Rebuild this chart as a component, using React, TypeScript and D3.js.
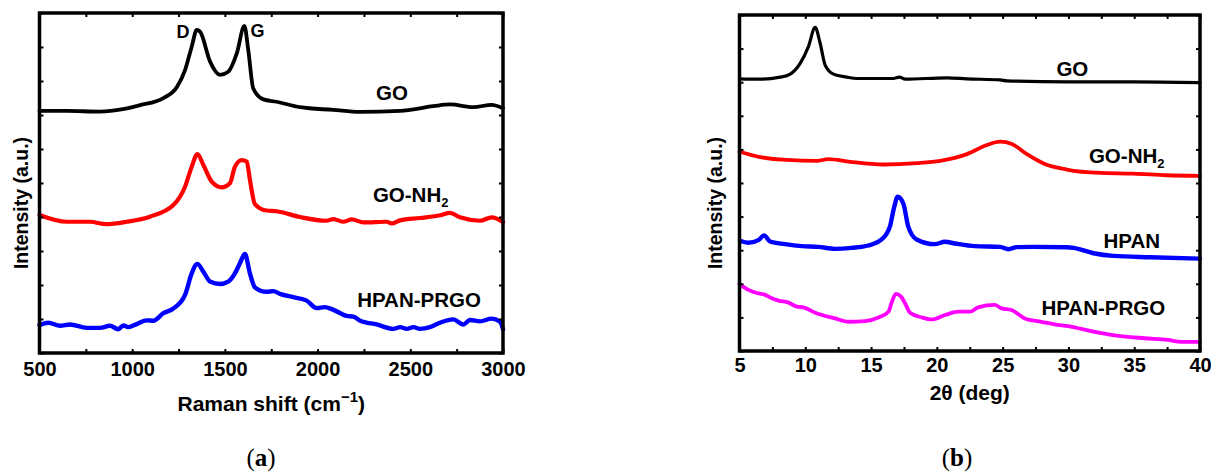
import React, { useEffect, useRef } from 'react';
import * as d3 from 'd3';

type Pt = [number, number];

// Raman spectra (panel a), x = Raman shift (cm-1), y = offset intensity (a.u.)
const ramanGO: Pt[] = [
  [500, 7.12], [647, 7.12], [826, 7.1], [950, 7.17], [1042, 7.29], [1166, 7.49],
  [1242, 7.83], [1285, 8.32], [1321, 9.01], [1348, 9.5], [1366, 9.45], [1420, 8.57],
  [1474, 8.18], [1518, 8.27], [1564, 8.81], [1605, 9.62], [1626, 8.91], [1653, 7.78],
  [1707, 7.46], [1779, 7.39], [1905, 7.23], [2085, 7.15], [2229, 7.09], [2445, 7.12],
  [2624, 7.26], [2714, 7.31], [2840, 7.23], [2939, 7.3], [3000, 7.2],
];
const ramanGONH2: Pt[] = [
  [500, 4.06], [647, 3.86], [772, 3.86], [859, 3.79], [970, 3.86], [1096, 4.01],
  [1222, 4.35], [1285, 4.89], [1321, 5.48], [1352, 5.85], [1384, 5.53], [1429, 5.04],
  [1483, 4.87], [1528, 5.0], [1554, 5.48], [1591, 5.67], [1618, 5.63], [1635, 5.09],
  [1662, 4.38], [1725, 4.19], [1779, 4.17], [1905, 4.0], [2048, 3.89], [2085, 3.94],
  [2139, 3.86], [2184, 3.93], [2247, 3.84], [2373, 3.86], [2400, 3.81], [2445, 3.9],
  [2553, 3.97], [2661, 4.05], [2714, 4.12], [2768, 3.99], [2876, 3.89], [2939, 3.99],
  [3000, 3.85],
];
const ramanHPANPRGO: Pt[] = [
  [500, 0.82], [547, 0.89], [611, 0.8], [665, 0.84], [755, 0.74], [826, 0.74],
  [880, 0.8], [925, 0.7], [952, 0.81], [979, 0.76], [1024, 0.85], [1078, 0.96],
  [1114, 0.95], [1168, 1.17], [1222, 1.31], [1285, 1.71], [1321, 2.34], [1351, 2.62],
  [1384, 2.39], [1420, 2.1], [1474, 2.03], [1518, 2.1], [1554, 2.34], [1581, 2.64],
  [1608, 2.91], [1635, 2.34], [1662, 1.93], [1725, 1.8], [1761, 1.82], [1797, 1.74],
  [1869, 1.64], [1941, 1.54], [1995, 1.32], [2040, 1.35], [2085, 1.27], [2157, 1.09],
  [2193, 1.07], [2229, 0.95], [2319, 0.84], [2409, 0.71], [2445, 0.76], [2481, 0.71],
  [2517, 0.76], [2552, 0.71], [2606, 0.76], [2660, 0.89], [2732, 0.99], [2786, 0.84],
  [2822, 0.97], [2876, 0.93], [2939, 1.01], [2984, 0.92], [3000, 0.7],
];

// XRD patterns (panel b), x = 2θ (deg)
const xrdGO: Pt[] = [
  [5, 8.1], [6.57, 8.09], [8.09, 8.15], [8.85, 8.24], [9.61, 8.56], [10.24, 9.06],
  [10.75, 9.63], [11.13, 9.16], [11.51, 8.51], [12.14, 8.24], [13.16, 8.15],
  [13.92, 8.11], [16.7, 8.11], [17.16, 8.15], [17.59, 8.09], [20.76, 8.13],
  [22.28, 8.1], [24.81, 8.07], [25.31, 8.04], [29.87, 8.01], [34.93, 8.01], [40, 7.99],
];
const xrdGONH2: Pt[] = [
  [5, 5.93], [6.57, 5.77], [8.6, 5.69], [10.88, 5.66], [11.76, 5.71], [13.41, 5.63],
  [15.94, 5.55], [18.48, 5.59], [20.25, 5.66], [22.28, 5.86], [23.8, 6.13],
  [24.81, 6.23], [25.7, 6.16], [26.84, 5.86], [28.11, 5.58], [29.87, 5.4],
  [32.4, 5.3], [34.93, 5.28], [37.46, 5.23], [40, 5.21],
];
const xrdHPAN: Pt[] = [
  [5.05, 3.28], [5.68, 3.22], [6.44, 3.3], [6.87, 3.44], [7.32, 3.26], [8.46, 3.18],
  [9.73, 3.12], [10.99, 3.1], [12.26, 3.04], [13.53, 3.07], [14.79, 3.14],
  [15.8, 3.32], [16.43, 3.7], [16.76, 4.29], [17.02, 4.59], [17.45, 4.39],
  [17.83, 3.7], [18.46, 3.32], [19.85, 3.18], [20.61, 3.25], [21.37, 3.2],
  [22.89, 3.12], [24.81, 3.1], [25.44, 3.03], [26.07, 3.09], [27.34, 3.1],
  [29.87, 3.09], [30.38, 3.07], [31.9, 2.91], [33.42, 2.83], [36.2, 2.79], [40, 2.75],
];
const xrdHPANPRGO: Pt[] = [
  [5, 1.99], [5.68, 1.82], [6.19, 1.74], [6.95, 1.67], [7.46, 1.57], [7.96, 1.5],
  [8.72, 1.44], [9.36, 1.32], [9.86, 1.3], [10.75, 1.14], [12.27, 0.97], [13.28, 0.87],
  [14.55, 0.89], [15.56, 1.0], [16.32, 1.17], [16.58, 1.46], [16.88, 1.7], [17.28, 1.62],
  [17.58, 1.42], [17.96, 1.14], [18.85, 1.0], [19.61, 0.94], [20.62, 1.07], [21.63, 1.17],
  [22.52, 1.17], [23.14, 1.3], [24.4, 1.37], [24.91, 1.27], [25.67, 1.22], [26.68, 0.97],
  [27.95, 0.87], [28.96, 0.79], [29.97, 0.74], [31.99, 0.57], [33.26, 0.48],
  [35.79, 0.38], [37.57, 0.33], [38.58, 0.27], [40, 0.27],
];

const ramanTickLabels = [500, 1000, 1500, 2000, 2500, 3000];
const xrdTickLabels = [5, 10, 15, 20, 25, 30, 35, 40];
const intensityTicks = [0, 1, 2, 3, 4, 5, 6, 7, 8, 9, 10];

const FONT = '"Liberation Sans", Arial, sans-serif';

const App = () => {
  const svgRef = useRef<SVGSVGElement>(null);

  useEffect(() => {
    const svg = d3.select(svgRef.current);
    svg.selectAll('*').remove();

    const drawPanel = (opts: any) => {
      const { left, right, top, bottom, xDomain, majors, step, series, labels, xTitle, pad, yTitleX, titleY, caption, captionX } = opts;
      const x = d3.scaleLinear().domain(xDomain).range([left, right]);
      const y = d3.scaleLinear().domain([0, 10]).range([bottom, top]);
      const allTicks = d3.range(xDomain[0], xDomain[1] + step / 2, step);
      const fmt = (d: any) => (majors.includes(d) ? String(d) : '');

      const g = svg.append('g');

      const line = d3.line<Pt>()
        .x(d => x(d[0]))
        .y(d => y(d[1]))
        .curve(d3.curveMonotoneX);

      series.forEach((s: any) => {
        g.append('path')
          .datum(s.data)
          .attr('fill', 'none')
          .attr('stroke', s.color)
          .attr('stroke-width', s.width)
          .attr('stroke-linejoin', 'round')
          .attr('stroke-linecap', 'round')
          .attr('d', line);
      });

      // axes, ticks pointing inward on all four sides
      const bottomAxis = g.append('g')
        .attr('transform', `translate(0,${bottom})`)
        .call(d3.axisBottom(x).tickValues(allTicks).tickSize(-4).tickPadding(pad).tickFormat(fmt));
      bottomAxis.selectAll('text')
        .attr('font-family', FONT).attr('font-weight', 'bold').attr('font-size', 20).attr('fill', '#000');
      g.append('g').attr('transform', `translate(0,${top})`)
        .call(d3.axisTop(x).tickValues(allTicks).tickSize(-4).tickFormat(() => ''));
      g.append('g').attr('transform', `translate(${left},0)`)
        .call(d3.axisLeft(y).tickValues(intensityTicks).tickSize(-4).tickFormat(() => ''));
      g.append('g').attr('transform', `translate(${right},0)`)
        .call(d3.axisRight(y).tickValues(intensityTicks).tickSize(-4).tickFormat(() => ''));
      g.selectAll('.domain').remove();
      g.selectAll('.tick line').attr('stroke', '#000').attr('stroke-width', 2);

      g.append('rect')
        .attr('x', left).attr('y', top)
        .attr('width', right - left).attr('height', bottom - top)
        .attr('fill', 'none').attr('stroke', '#000').attr('stroke-width', 3.5);

      labels.forEach((l: any) => {
        const t = g.append('text')
          .attr('x', x(l.x)).attr('y', y(l.y))
          .attr('text-anchor', 'middle')
          .attr('font-family', FONT).attr('font-weight', 'bold')
          .attr('font-size', l.size || 20.5)
          .text(l.text);
        if (l.sub) {
          t.append('tspan').attr('font-size', 13).attr('dy', 5).text(l.sub);
        }
      });

      // x title
      const xt = g.append('text')
        .attr('x', (left + right) / 2).attr('y', titleY)
        .attr('text-anchor', 'middle')
        .attr('font-family', FONT).attr('font-weight', 'bold').attr('font-size', 21);
      xt.append('tspan').text(xTitle.main);
      if (xTitle.sup) {
        xt.append('tspan').attr('font-size', 15).attr('dy', -9).text(xTitle.sup);
        xt.append('tspan').attr('dy', 9).text(')');
      }

      g.append('text')
        .attr('transform', `translate(${yTitleX},${(top + bottom) / 2 + 20}) rotate(-90)`)
        .attr('text-anchor', 'middle')
        .attr('font-family', FONT).attr('font-weight', 'bold').attr('font-size', 19.5)
        .text('Intensity (a.u.)');

      const cap = g.append('text')
        .attr('x', captionX).attr('y', 466)
        .attr('text-anchor', 'middle')
        .attr('font-family', '"Liberation Serif", "DejaVu Serif", serif')
        .attr('font-size', 25);
      cap.append('tspan').text('(');
      cap.append('tspan').attr('font-weight', 'bold').text(caption);
      cap.append('tspan').text(')');
    };

    drawPanel({
      left: 39.5, right: 503, top: 13, bottom: 353,
      xDomain: [500, 3000], majors: ramanTickLabels, step: 250, pad: 9,
      series: [
        { data: ramanGO, color: '#000000', width: 3.8 },
        { data: ramanGONH2, color: '#ff0000', width: 4.2 },
        { data: ramanHPANPRGO, color: '#0000ff', width: 4.4 },
      ],
      labels: [
        { text: 'D', x: 1274, y: 9.26, size: 18 },
        { text: 'G', x: 1676, y: 9.3, size: 18 },
        { text: 'GO', x: 2401, y: 7.44 },
        { text: 'GO-NH', sub: '2', x: 2502, y: 4.45 },
        { text: 'HPAN-PRGO', x: 2547, y: 1.34 },
      ],
      xTitle: { main: 'Raman shift (cm', sup: '\u22121' },
      titleY: 411, yTitleX: 28, caption: 'a', captionX: 261,
    });

    drawPanel({
      left: 739.5, right: 1200, top: 15, bottom: 351,
      xDomain: [5, 40], majors: xrdTickLabels, step: 2.5, pad: 7,
      series: [
        { data: xrdGO, color: '#000000', width: 3.2 },
        { data: xrdGONH2, color: '#ff0000', width: 3.8 },
        { data: xrdHPAN, color: '#0000ff', width: 4.4 },
        { data: xrdHPANPRGO, color: '#ff00ff', width: 3.8 },
      ],
      labels: [
        { text: 'GO', x: 30.3, y: 8.18 },
        { text: 'GO-NH', sub: '2', x: 34.43, y: 5.6 },
        { text: 'HPAN', x: 34.81, y: 3.07 },
        { text: 'HPAN-PRGO', x: 32.65, y: 1.07 },
      ],
      xTitle: { main: '2\u03b8 (deg)' },
      titleY: 400, yTitleX: 722, caption: 'b', captionX: 957,
    });
  }, []);

  return (
    <svg ref={svgRef} width={1217} height={474}
      style={{ position: 'absolute', left: 0, top: 0, background: '#fff' }} />
  );
};

export default App;
